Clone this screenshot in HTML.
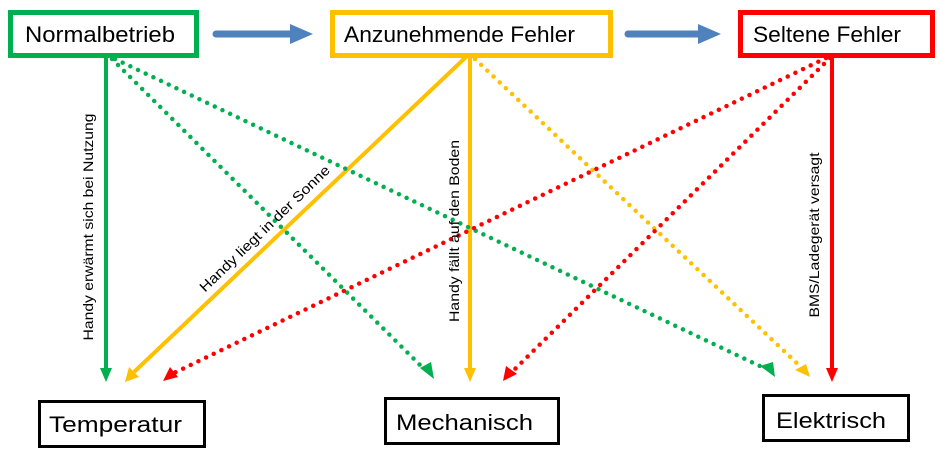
<!DOCTYPE html>
<html><head><meta charset="utf-8"><style>body{margin:0;background:#fff}svg{display:block}</style></head><body>
<svg width="940" height="456" xmlns="http://www.w3.org/2000/svg" font-family="Liberation Sans, sans-serif">
<g fill="#fff">
<rect x="10.5" y="12.5" width="186" height="43" stroke="#00b050" stroke-width="5"/>
<rect x="332.5" y="12.5" width="278" height="43" stroke="#ffc000" stroke-width="5"/>
<rect x="740.5" y="12.5" width="192" height="43" stroke="#ff0000" stroke-width="5"/>
<rect x="39.5" y="401.5" width="165" height="45" stroke="#000" stroke-width="3"/>
<rect x="385.5" y="398.5" width="173" height="45" stroke="#000" stroke-width="3"/>
<rect x="763.5" y="395.5" width="145" height="45" stroke="#000" stroke-width="3"/>
</g>
<g font-size="22" fill="#000" lengthAdjust="spacingAndGlyphs">
<text x="25" y="42" textLength="150" lengthAdjust="spacingAndGlyphs">Normalbetrieb</text>
<text x="344" y="42" textLength="231" lengthAdjust="spacingAndGlyphs">Anzunehmende Fehler</text>
<text x="753" y="42" textLength="148" lengthAdjust="spacingAndGlyphs">Seltene Fehler</text>
<text x="49" y="432" textLength="133" lengthAdjust="spacingAndGlyphs">Temperatur</text>
<text x="396" y="430" textLength="137" lengthAdjust="spacingAndGlyphs">Mechanisch</text>
<text x="776" y="428" textLength="110" lengthAdjust="spacingAndGlyphs">Elektrisch</text>
</g>
<line x1="216" y1="34" x2="292" y2="34" stroke="#4f81bd" stroke-width="7" stroke-linecap="round"/>
<path d="M290,24 L313,34 L290,44z" fill="#4f81bd"/>
<line x1="628" y1="34" x2="700" y2="34" stroke="#4f81bd" stroke-width="7" stroke-linecap="round"/>
<path d="M698,24 L721,34 L698,44z" fill="#4f81bd"/>
<g stroke-width="4" fill="none">
<line x1="106" y1="58" x2="106" y2="368" stroke="#00b050"/>
<line x1="466" y1="57" x2="134" y2="372" stroke="#ffc000"/>
<line x1="470" y1="57" x2="470" y2="368" stroke="#ffc000"/>
<line x1="832" y1="57" x2="832" y2="368" stroke="#ff0000"/>
</g>
<g stroke-width="4.5" fill="none" stroke-dasharray="0 8.5" stroke-linecap="round">
<line x1="112" y1="59" x2="425" y2="370" stroke="#00b050"/>
<line x1="115" y1="59" x2="764" y2="368" stroke="#00b050"/>
<line x1="475" y1="59" x2="802" y2="368" stroke="#ffc000"/>
<line x1="826" y1="58" x2="174" y2="373" stroke="#ff0000"/>
<line x1="830" y1="58" x2="512" y2="372" stroke="#ff0000"/>
</g>
<path d="M100,368 L112,368 L106,382z" fill="#00b050"/>
<path d="M464,368 L476,368 L470,382z" fill="#ffc000"/>
<path d="M826,368 L838,368 L832,382z" fill="#ff0000"/>
<path d="M125,382 L129,367 L139,377z" fill="#ffc000"/>
<path d="M420,368 L431,362 L434,379z" fill="#00b050"/>
<path d="M760,366 L773,362 L775,377z" fill="#00b050"/>
<path d="M795,370 L806,364 L810,377z" fill="#ffc000"/>
<path d="M163,381 L170,367 L178,377z" fill="#ff0000"/>
<path d="M503,381 L506,366 L517,374z" fill="#ff0000"/>
<g font-size="14" fill="#000" text-anchor="middle">
<text transform="translate(93,227) rotate(-90)" textLength="227" lengthAdjust="spacingAndGlyphs">Handy erwärmt sich bei Nutzung</text>
<text transform="translate(268,232) rotate(-44)" textLength="175" lengthAdjust="spacingAndGlyphs">Handy liegt in der Sonne</text>
<text transform="translate(459,231) rotate(-90)" textLength="182" lengthAdjust="spacingAndGlyphs">Handy fällt auf den Boden</text>
<text transform="translate(819,235) rotate(-90)" textLength="165" lengthAdjust="spacingAndGlyphs">BMS/Ladegerät versagt</text>
</g>
</svg>
</body></html>
